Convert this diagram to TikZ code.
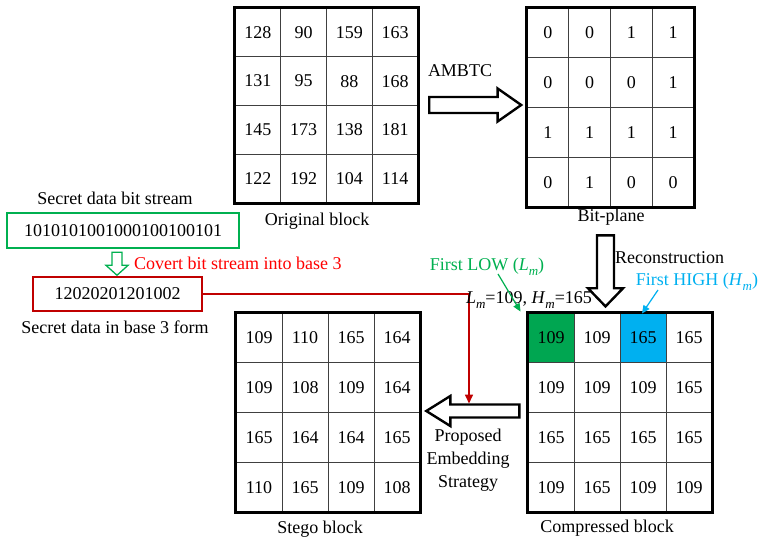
\documentclass[tikz,border=0pt]{standalone}
\usepackage{fontspec}
\setmainfont{Liberation Serif}
\usetikzlibrary{shapes.arrows,arrows.meta,fit,backgrounds,calc}
\definecolor{lowgreen}{HTML}{00A651}
\definecolor{txtgreen}{HTML}{00B050}
\definecolor{hiblue}{HTML}{00B0F0}
\definecolor{darkred}{HTML}{C00000}
\definecolor{brightred}{HTML}{FF0000}
\tikzset{
  cell/.style={draw=black!75, line width=0.9pt, inner sep=0pt, anchor=center},
  outerbox/.style={draw=black, line width=2.6pt, inner sep=0pt},
  lbl/.style={inner sep=0pt, anchor=center},
  hollow/.style={single arrow, draw=black, line width=2.4pt, fill=white, anchor=center, minimum width=0pt},
  databox/.style={line width=2pt, inner sep=0pt, anchor=center},
}
% name, x0, y0, cell width, cell height, values
\newcommand{\blockgrid}[6]{%
  \foreach \v [count=\i from 0] in {#6} {
    \pgfmathtruncatemacro\rr{div(\i,4)}
    \pgfmathtruncatemacro\cc{mod(\i,4)}
    \node[cell, minimum width=#4pt, minimum height=#5pt] (#1-\rr-\cc)
      at ({#2+(\cc+0.5)*#4}, {#3+(\rr+0.5)*#5}) {\v};
  }
  \node[outerbox, fit=(#1-0-0)(#1-3-3)] (#1) {};
}
\newcommand{\sub}[1]{\textit{#1}\raisebox{-0.28em}{\fontsize{13}{13}\selectfont\textit{m}}}
\begin{document}
\begin{tikzpicture}[x=1pt, y=-1pt, font=\fontsize{18}{23}\selectfont]
\useasboundingbox (0,0) rectangle (762,540);

% blocks
\blockgrid{orig}{235}{8}{45.75}{48.75}{128,90,159,163,131,95,88,168,145,173,138,181,122,192,104,114}
\blockgrid{bit}{527}{8}{41.75}{49.75}{0,0,1,1,0,0,0,1,1,1,1,1,0,1,0,0}
\blockgrid{stego}{236}{313}{46}{49.75}{109,110,165,164,109,108,109,164,165,164,164,165,110,165,109,108}
\blockgrid{comp}{528}{313}{46}{49.75}{109,109,165,165,109,109,109,165,165,165,165,165,109,165,109,109}

\begin{scope}[on background layer]
  \fill[lowgreen] (comp-0-0.north west) rectangle (comp-0-0.south east);
  \fill[hiblue] (comp-0-2.north west) rectangle (comp-0-2.south east);
\end{scope}

% block captions
\node[lbl] (origcap) at (317,221) {Original block};
\node[lbl] (bitcap) at (611,217) {Bit-plane};
\node[lbl] (stegocap) at (320,529) {Stego block};
\node[lbl] (compcap) at (607,528) {Compressed block};

% hollow arrows
\node[hollow, inner sep=6.8pt, minimum height=92pt, single arrow head extend=8.5pt,
      single arrow tip angle=70] (ambtcarrow) at (469.5,105) {};
\node[lbl] (ambtc) at (460,71) {AMBTC};

\node[hollow, inner sep=7.3pt, minimum height=71pt, single arrow head extend=9pt,
      single arrow tip angle=88, shape border rotate=270] (reconarrow) at (605.5,266.5) {};
\node[lbl, anchor=west] (recon) at (615,258) {Reconstruction};

\node[hollow, inner sep=5.3pt, minimum height=93pt, single arrow head extend=8.5pt,
      single arrow tip angle=64, shape border rotate=180] (embedarrow) at (478,411) {};
\node[lbl, align=center] (embedtxt) at (468,460) {Proposed\\Embedding\\Strategy};

% secret data
\node[lbl] (bscap) at (115,198) {Secret data bit stream};
\node[databox, draw=txtgreen, minimum width=232pt, minimum height=35pt] (bitstream) at (123,230.5) {1010101001000100100101};
\node[single arrow, draw=txtgreen, line width=1.3pt, fill=white, inner sep=4.35pt,
      minimum height=23pt, minimum width=0pt, single arrow head extend=6pt,
      single arrow tip angle=96, shape border rotate=270] (convarrow) at (117,261.5) {};
\node[lbl, anchor=west, text=brightred] (convtxt) at (134,263) {Covert bit stream into base 3};
\node[databox, draw=darkred, minimum width=169pt, minimum height=34pt] (redbox) at (117.5,294) {12020201201002\hspace{14pt}};
\node[lbl] (b3cap) at (115,327) {Secret data in base 3 form};

% red connector
\coordinate (embedin) at (469,403.5);
\draw[darkred, line width=1.6pt, -{Triangle[length=9pt,width=8pt]}] (redbox.east) -| (embedin);

% L/H labels
\node[lbl, text=txtgreen] (lowlbl) at (487,267) {First LOW (\sub{L})};
\node[lbl] (lhval) at (529,300) {\sub{L}=109, \sub{H}=165};
\node[lbl, text=hiblue] (highlbl) at (697,282) {First HIGH (\sub{H})};
\draw[txtgreen, line width=1.2pt, -{Triangle[length=8pt,width=7pt]}] ([xshift=11pt,yshift=2pt]lowlbl.south) -- ([xshift=-7pt,yshift=1pt]comp-0-0.north west);
\draw[hiblue, line width=1.2pt, -{Triangle[length=8pt,width=7pt]}] ([xshift=-39pt,yshift=1pt]highlbl.south) -- ([xshift=-1pt,yshift=-1pt]comp-0-2.north);
\end{tikzpicture}
\end{document}
